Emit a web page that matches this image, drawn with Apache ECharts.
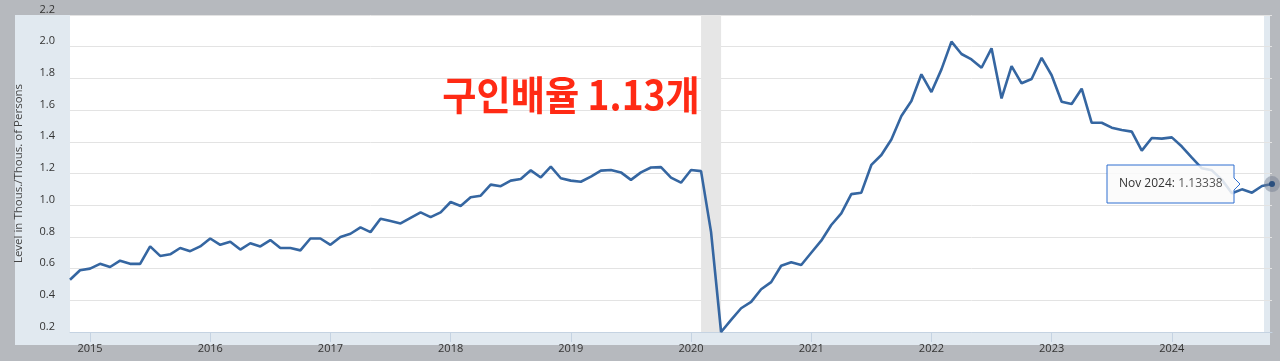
<!DOCTYPE html>
<html><head><meta charset="utf-8">
<script src="https://cdn.jsdelivr.net/npm/echarts@6/dist/echarts.min.js"></script>
<style>
html,body{margin:0;padding:0;width:1280px;height:361px;overflow:hidden;background:#b6b9be;}
#panel{position:absolute;left:15px;top:15px;width:1255px;height:330px;background:#e1e9f0;}
#plot{position:absolute;left:70px;top:15px;width:1194px;height:317px;background:#ffffff;}
#chart{position:absolute;left:0;top:0;width:1280px;height:361px;}
</style></head><body>
<div id="panel"></div><div id="plot"></div><div id="chart"></div>
<script>
const months = [
 '2014-11','2014-12',
 '2015-01','2015-02','2015-03','2015-04','2015-05','2015-06','2015-07','2015-08','2015-09','2015-10','2015-11','2015-12',
 '2016-01','2016-02','2016-03','2016-04','2016-05','2016-06','2016-07','2016-08','2016-09','2016-10','2016-11','2016-12',
 '2017-01','2017-02','2017-03','2017-04','2017-05','2017-06','2017-07','2017-08','2017-09','2017-10','2017-11','2017-12',
 '2018-01','2018-02','2018-03','2018-04','2018-05','2018-06','2018-07','2018-08','2018-09','2018-10','2018-11','2018-12',
 '2019-01','2019-02','2019-03','2019-04','2019-05','2019-06','2019-07','2019-08','2019-09','2019-10','2019-11','2019-12',
 '2020-01','2020-02','2020-03','2020-04','2020-05','2020-06','2020-07','2020-08','2020-09','2020-10','2020-11','2020-12',
 '2021-01','2021-02','2021-03','2021-04','2021-05','2021-06','2021-07','2021-08','2021-09','2021-10','2021-11','2021-12',
 '2022-01','2022-02','2022-03','2022-04','2022-05','2022-06','2022-07','2022-08','2022-09','2022-10','2022-11','2022-12',
 '2023-01','2023-02','2023-03','2023-04','2023-05','2023-06','2023-07','2023-08','2023-09','2023-10','2023-11','2023-12',
 '2024-01','2024-02','2024-03','2024-04','2024-05','2024-06','2024-07','2024-08','2024-09','2024-10','2024-11'
];
const ratio = [
 0.53,0.59,
 0.60,0.63,0.61,0.65,0.63,0.63,0.74,0.68,0.69,0.73,0.71,0.74,
 0.79,0.75,0.77,0.72,0.76,0.74,0.78,0.73,0.73,0.715,0.79,0.79,
 0.75,0.80,0.82,0.86,0.83,0.915,0.90,0.885,0.92,0.955,0.925,0.955,
 1.02,0.995,1.05,1.06,1.13,1.12,1.155,1.165,1.22,1.175,1.243,1.17,
 1.155,1.148,1.18,1.218,1.222,1.207,1.16,1.207,1.238,1.24,1.174,1.142,
 1.222,1.215,0.83,0.20,0.276,0.35,0.39,0.47,0.515,0.618,0.64,0.623,
 0.70,0.776,0.875,0.949,1.07,1.079,1.254,1.317,1.415,1.563,1.657,1.826,
 1.714,1.857,2.032,1.954,1.92,1.867,1.99,1.674,1.878,1.769,1.796,1.93,
 1.82,1.653,1.638,1.735,1.52,1.52,1.489,1.474,1.464,1.344,1.424,1.42,
 1.428,1.37,1.30,1.233,1.22,1.16,1.075,1.10,1.079,1.121,1.13338
];
const recession = ['2020-02','2020-04'];
const yTicks = {min:0.2, max:2.2, step:0.2};
const axisTitle = 'Level in Thous./Thous. of Persons';
const annotation = '구인배율 1.13개';
const tipLabel = 'Nov 2024:';
const tipValue = '1.13338';

const isYearStart = (i, v) => String(v).slice(5) === '01';
const chart = echarts.init(document.getElementById('chart'), null, {renderer:'canvas'});
const last = months.length - 1;
chart.setOption({
  backgroundColor: 'transparent',
  animation: false,
  grid: {left:70, right:8, top:15, bottom:29, containLabel:false},
  xAxis: {
    type:'category', data: months, boundaryGap:false,
    axisLine:{show:true, lineStyle:{color:'#c5d3e2', width:1}},
    axisTick:{show:true, interval:isYearStart, length:10, lineStyle:{color:'#c5d3e2'}},
    axisLabel:{interval:isYearStart, formatter:v=>v.slice(0,4), color:'#333', fontSize:11,
      fontFamily:'Open Sans', margin:11},
    splitLine:{show:false}
  },
  yAxis: {
    type:'value', min:yTicks.min, max:yTicks.max, interval:yTicks.step,
    name: axisTitle, nameLocation:'middle', nameGap:45,
    nameTextStyle:{color:'#444', fontSize:11.5, fontFamily:'Open Sans'},
    axisLine:{show:false}, axisTick:{show:false},
    axisLabel:{color:'#333', fontSize:11, fontFamily:'Open Sans', margin:15,
      formatter:v=>v.toFixed(1), verticalAlign:'bottom'},
    splitLine:{show:true, lineStyle:{color:'#e3e3e3', width:1}}
  },
  series: [{
    type:'line', data: ratio, symbol:'none', clip:false,
    lineStyle:{color:'#3566a1', width:2.6},
    markArea:{silent:true, itemStyle:{color:'#e6e6e6'},
      data:[[{xAxis:recession[0]},{xAxis:recession[1]}]]},
    markPoint:{silent:true, label:{show:false},
      data:[
        {coord:[months[last], ratio[last]], symbol:'circle', symbolSize:16, itemStyle:{color:'rgba(110,122,142,0.45)'}},
        {coord:[months[last], ratio[last]], symbol:'circle', symbolSize:6, itemStyle:{color:'#2b4f7e'}}
      ]}
  }],
  graphic: [
    {type:'text', z:100, x:571, y:95, scaleX:0.93, style:{text:annotation, fill:'#ff2a14', fontSize:40,
      fontWeight:'bold', fontFamily:'Noto Sans CJK KR', textAlign:'center', textVerticalAlign:'middle'}},
    {type:'polygon', z:100, shape:{points:[[1107,165],[1234,165],[1234,178],[1240,184],[1234,190],[1234,203],[1107,203]]},
      style:{fill:'rgba(250,250,250,0.85)', stroke:'#2f6fd0', lineWidth:1}},
    {type:'text', z:101, x:1119, y:184, style:{
      text:'{a|'+tipLabel+'} {b|'+tipValue+'}', textVerticalAlign:'middle',
      rich:{a:{fill:'#333', fontSize:12, fontFamily:'Open Sans'}, b:{fill:'#555', fontSize:12, fontFamily:'Open Sans'}}}}
  ]
});
</script></body></html>
